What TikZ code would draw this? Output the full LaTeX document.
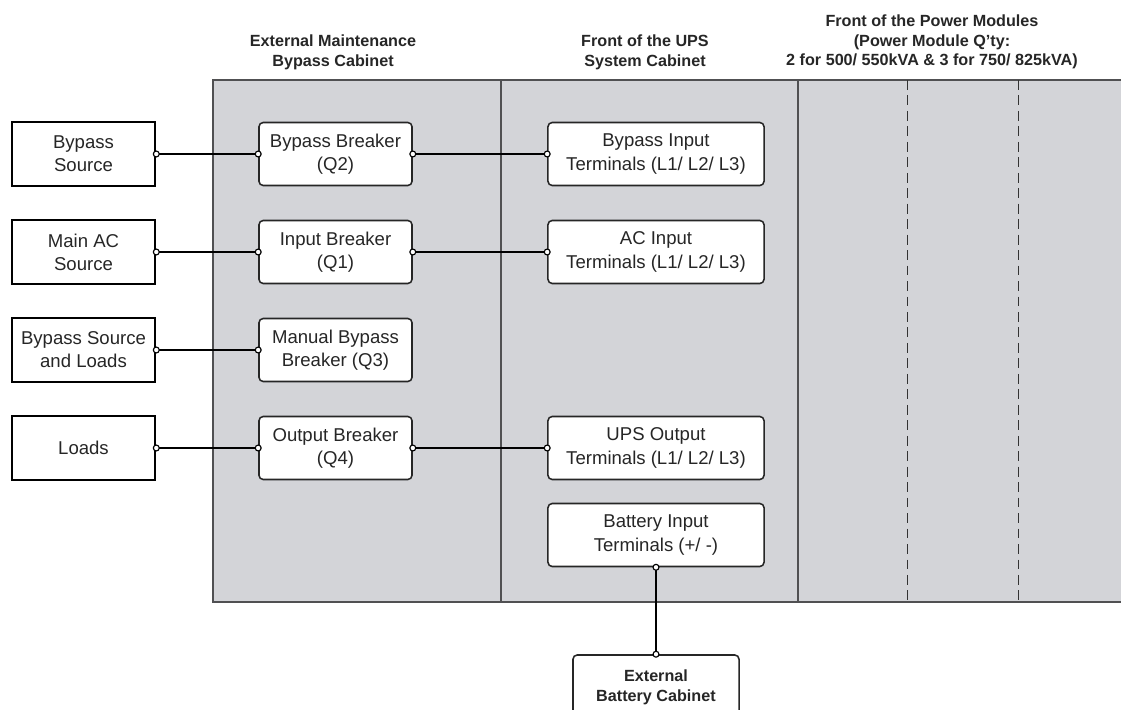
\documentclass[tikz,border=0pt]{standalone}
\usepackage{fontspec}
\setmainfont{Liberation Sans}
\usepackage{xcolor}
\usetikzlibrary{arrows.meta}
\definecolor{panelgray}{RGB}{211,212,216}
\definecolor{edgegray}{RGB}{80,80,82}
\tikzset{
  srcbox/.style={draw=black, line width=1.8pt, fill=white, minimum width=3.575cm,
    minimum height=1.6cm, align=center, inner sep=0pt, text=black!85,
    font=\fontsize{13.2}{16.5}\selectfont},
  brkbox/.style={draw=black!85, line width=1.1pt, rounded corners=3pt, fill=white,
    minimum height=1.575cm, align=center, inner sep=0pt, text=black!85,
    font=\fontsize{13.2}{16.5}\selectfont},
  header/.style={align=center, text=black!85, font=\bfseries\fontsize{11.5}{14}\selectfont},
  wire/.style={line width=0.8pt, {Circle[fill=white,length=5pt]}-{Circle[fill=white,length=5pt]},
    shorten <=-2.5pt, shorten >=-2.5pt},
  paneledge/.style={draw=edgegray, line width=1.6pt},
}
\begin{document}
\begin{tikzpicture}[x=0.025cm, y=-0.025cm]
  \useasboundingbox (0,0) rectangle (1121,710);
  % Cabinet panels
  \fill[panelgray] (213,80) rectangle (1130,602);
  \draw[paneledge] (1130,80) -- (213,80) -- (213,602) -- (1130,602);
  \draw[paneledge] (501,80) -- (501,602);
  \draw[paneledge] (798,80) -- (798,602);
  \draw[black!80, line width=0.7pt, dash pattern=on 7pt off 4pt] (907,80) -- (907,602);
  \draw[black!80, line width=0.7pt, dash pattern=on 7pt off 4pt] (1018,80) -- (1018,602);

  % Column headers
  \node[header] (hbyp) at (333,52) {External Maintenance\\Bypass Cabinet};
  \node[header] (hups) at (645,52) {Front of the UPS\\System Cabinet};
  \node[header] (hpm) at (932,42) {Front of the Power Modules\\(Power Module Q'ty:\\2 for 500/ 550kVA \& 3 for 750/ 825kVA)};

  % Sources and loads
  \node[srcbox] (bsrc) at (83.5,154) {Bypass\\Source};
  \node[srcbox] (acsrc) at (83.5,252) {Main AC\\Source};
  \node[srcbox] (bload) at (83.5,350) {Bypass Source\\and Loads};
  \node[srcbox] (loads) at (83.5,448) {Loads};

  % Breakers
  \node[brkbox, minimum width=3.825cm] (qtwo) at (335.5,154) {Bypass Breaker\\(Q2)};
  \node[brkbox, minimum width=3.825cm] (qone) at (335.5,252) {Input Breaker\\(Q1)};
  \node[brkbox, minimum width=3.825cm] (qthree) at (335.5,350) {Manual Bypass\\Breaker (Q3)};
  \node[brkbox, minimum width=3.825cm] (qfour) at (335.5,448) {Output Breaker\\(Q4)};

  % Terminals
  \node[brkbox, minimum width=5.4cm] (bypin) at (656,154) {Bypass Input\\Terminals (L1/ L2/ L3)};
  \node[brkbox, minimum width=5.4cm] (acin) at (656,252) {AC Input\\Terminals (L1/ L2/ L3)};
  \node[brkbox, minimum width=5.4cm] (upsout) at (656,448) {UPS Output\\Terminals (L1/ L2/ L3)};
  \node[brkbox, minimum width=5.4cm] (batin) at (656,535) {Battery Input\\Terminals (+/ -)};

  % External battery cabinet
  \node[brkbox, minimum width=4.15cm, minimum height=1.6cm,
    font=\bfseries\fontsize{11.5}{14}\selectfont] (extbat) at (656,687) {External\\Battery Cabinet};

  % Wiring
  \draw[wire] (bsrc.east) -- (qtwo.west);
  \draw[wire] (acsrc.east) -- (qone.west);
  \draw[wire] (bload.east) -- (qthree.west);
  \draw[wire] (loads.east) -- (qfour.west);
  \draw[wire] (qtwo.east) -- (bypin.west);
  \draw[wire] (qone.east) -- (acin.west);
  \draw[wire] (qfour.east) -- (upsout.west);
  \draw[wire] (batin.south) -- (extbat.north);
\end{tikzpicture}
\end{document}
